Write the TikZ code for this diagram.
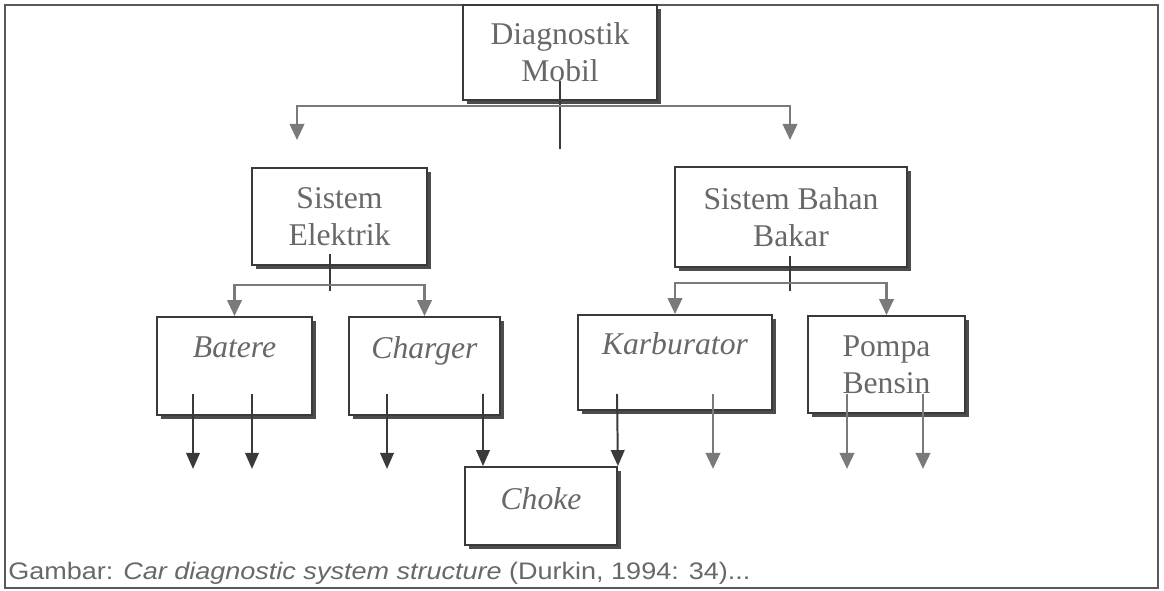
\documentclass[tikz,border=0pt]{standalone}
\usepackage{fontspec}
\setmainfont{Liberation Serif}
\newfontfamily\captionfont{Liberation Sans}
\usetikzlibrary{positioning,arrows.meta,shadows}
\definecolor{teksabu}{HTML}{686868}
\definecolor{garisgelap}{HTML}{3A3A3A}
\definecolor{garisabu}{HTML}{7A7A7A}
\tikzset{
  kotak/.style={draw=garisgelap, line width=1.3pt, fill=white, text=teksabu, align=center, inner sep=0pt,
    font=\fontsize{22.5}{26.5}\selectfont,
    drop shadow={shadow xshift=0.11cm, shadow yshift=-0.11cm, opacity=1, fill=black!70}},
  garis/.style={draw=garisgelap, line width=1.2pt},
  panahabu/.style={draw=garisabu, line width=1.8pt, -{Triangle[width=0.36cm,length=0.4cm]}},
  panahgelap/.style={draw=garisgelap, line width=1.4pt, -{Triangle[width=0.34cm,length=0.4cm]}}
}
\begin{document}
\begin{tikzpicture}[x=0.025cm, y=-0.025cm]
    \useasboundingbox (0,0) rectangle (1164,591);
    \draw[draw=garisgelap!85, line width=1.2pt] (5,5) rectangle (1158,588);

    \node[kotak, minimum width=4.85cm, minimum height=2.375cm] at (560,52.5) (diagnostik) {Diagnostik\\Mobil};
    \node[kotak, minimum width=4.375cm, minimum height=2.425cm] at (339.5,216.5) (elektrik) {Sistem\\Elektrik};
    \node[kotak, minimum width=5.8cm, minimum height=2.5cm] at (791,217) (bahanbakar) {Sistem Bahan\\Bakar};
    \node[kotak, minimum width=3.875cm, minimum height=2.45cm] at (234.5,366) (batere) {\textit{Batere}\\\mbox{}};
    \node[kotak, minimum width=3.775cm, minimum height=2.45cm] at (424.5,366) (charger) {\textit{Charger}\\\mbox{}};
    \node[kotak, minimum width=4.85cm, minimum height=2.375cm] at (675,362.5) (karburator) {\textit{Karburator}\\\mbox{}};
    \node[kotak, minimum width=3.925cm, minimum height=2.425cm] at (886.5,364.5) (pompa) {Pompa\\Bensin};
    \node[kotak, minimum width=3.8cm, minimum height=1.95cm, text depth=11pt] at (541,506) (choke) {\textit{Choke}};

    \coordinate (cabangatas) at (560,106);
    \coordinate (ujungkiri) at (297,140);
    \coordinate (ujungkanan) at (790,140);
    \coordinate (cabangelektrik) at (330,285);
    \coordinate (cabangbahan) at (790,283);

    % tingkat pertama
    \draw[garis] (diagnostik.south) ++(0,-20) -- ++(0,68);
    \draw[panahabu] (cabangatas) -| (ujungkiri);
    \draw[panahabu] (cabangatas) -| (ujungkanan);

    % tingkat kedua
    \draw[garis] (elektrik.south) ++(-9.5,-12) -- ++(0,37);
    \draw[panahabu] (cabangelektrik) -| (batere.north);
    \draw[panahabu] (cabangelektrik) -| (charger.north);
    \draw[garis] (bahanbakar.south) ++(-1,-12) -- ++(0,35);
    \draw[panahabu] (cabangbahan) -| (karburator.north);
    \draw[panahabu] (cabangbahan) -| (pompa.north);

    % tingkat ketiga
    \draw[panahgelap] (batere.south) ++(-41.5,-22) -- ++(0,75);
    \draw[panahgelap] (batere.south) ++(17.5,-22) -- ++(0,75);
    \draw[panahgelap] (charger.south) ++(-37.5,-22) -- ++(0,75);
    \draw[panahgelap] (charger.south) ++(58.5,-22) -- (choke.north -| 483,0);
    \draw[panahgelap] (karburator.south) ++(-58,-17) -- (choke.north east);
    \draw[panahabu] (karburator.south) ++(38,-17) -- ++(0,75);
    \draw[panahabu] (pompa.south) ++(-39.5,-20) -- ++(0,75);
    \draw[panahabu] (pompa.south) ++(36.5,-20) -- ++(0,75);

    \node[anchor=west, inner sep=0pt, text=teksabu, font=\captionfont\fontsize{17}{19}\selectfont] at (8,573) (keterangan)
        {\scalebox{1.13}[1]{Gambar: \textit{Car diagnostic system structure} (Durkin, 1994: 34)...}};
\end{tikzpicture}
\end{document}
